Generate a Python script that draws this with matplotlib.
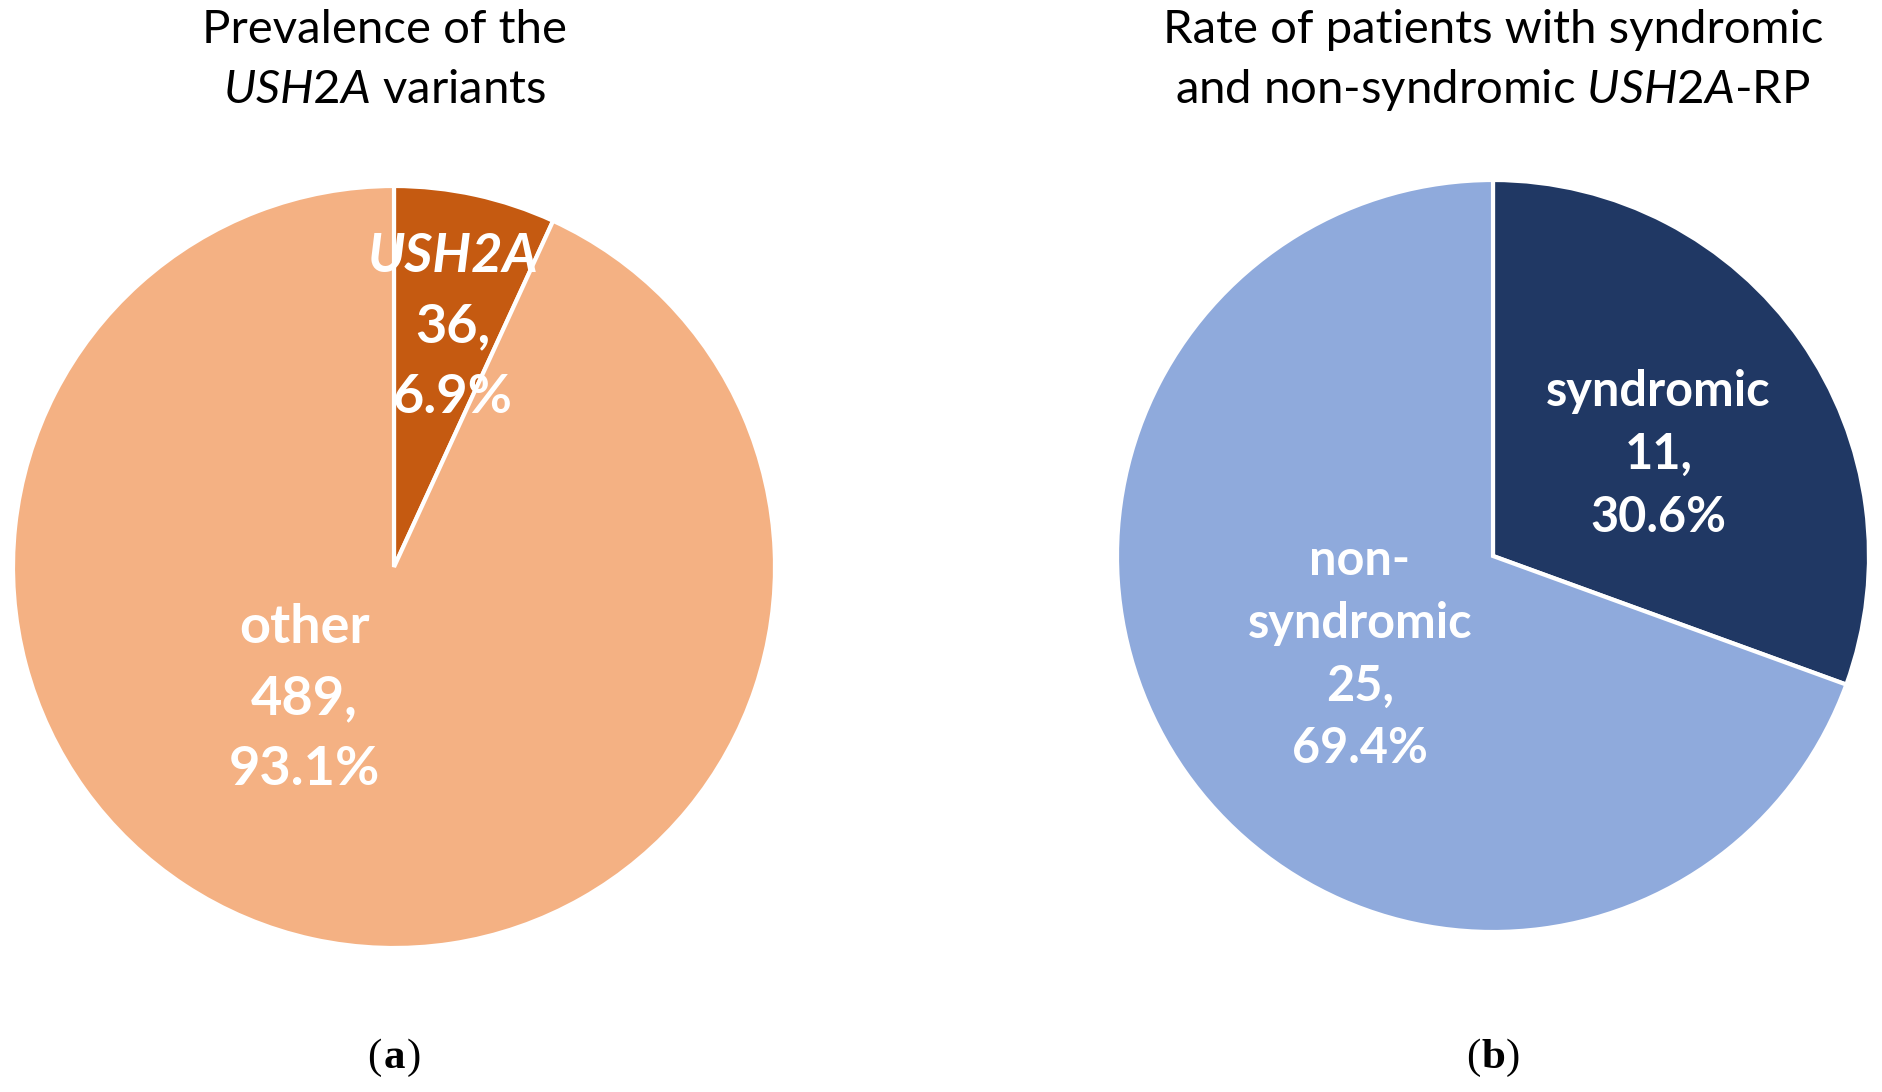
import matplotlib
matplotlib.use('Agg')
import matplotlib.pyplot as plt

plt.rcParams['font.family'] = ['Lato', 'DejaVu Sans']
plt.rcParams['mathtext.fontset'] = 'custom'
plt.rcParams['mathtext.rm'] = 'Lato'
plt.rcParams['mathtext.it'] = 'Lato:italic'
plt.rcParams['mathtext.bf'] = 'Lato:bold'

# data
variant_names = ['USH2A', 'other']
variant_counts = [36, 489]
variant_colors = ['#C55A11', '#F4B183']

patient_names = ['syndromic', 'non-\nsyndromic']
patient_counts = [11, 25]
patient_colors = ['#203864', '#8FAADC']

W, H = 1882, 1092
fig = plt.figure(figsize=(W / 100, H / 100), dpi=100)


def pie_axes(cx, cy, r):
    """axes in pixel coords (from top-left) so that the pie fills it"""
    ax = fig.add_axes([(cx - r) / W, (H - cy - r) / H, 2 * r / W, 2 * r / H])
    ax.set_xlim(-1, 1)
    ax.set_ylim(-1, 1)
    ax.set_aspect('equal')
    ax.axis('off')
    return ax


def draw_pie(ax, counts, colors):
    ax.pie(counts, colors=colors, startangle=90, counterclock=False, radius=1,
           wedgeprops=dict(edgecolor='white', linewidth=3))
    ax.set_xlim(-1, 1)
    ax.set_ylim(-1, 1)


def wedge_label(ax, x, y, name, count, total, size, italic=False, gap=1.22):
    pct = 100.0 * count / total
    lines = name.split('\n') + ['{},'.format(count), '{:.1f}%'.format(pct)]
    n = len(lines)
    step = size * gap
    for i, line in enumerate(lines):
        off = ((n - 1) / 2 - i) * step
        st = 'italic' if (italic and i == 0) else 'normal'
        ax.annotate(line, (x, y), xytext=(0, off), textcoords='offset points',
                    ha='center', va='center', color='white', fontsize=size,
                    fontweight='bold', style=st)


# (a) prevalence of USH2A variants
ax1 = pie_axes(394, 567, 381)
draw_pie(ax1, variant_counts, variant_colors)
tot1 = sum(variant_counts)
wedge_label(ax1, 0.155, 0.63, variant_names[0], variant_counts[0], tot1, 39, italic=True, gap=1.31)
wedge_label(ax1, -0.236, -0.345, variant_names[1], variant_counts[1], tot1, 39, gap=1.31)

# (b) syndromic vs non-syndromic
ax2 = pie_axes(1493, 556, 376)
draw_pie(ax2, patient_counts, patient_colors)
tot2 = sum(patient_counts)
wedge_label(ax2, 0.44, 0.27, patient_names[0], patient_counts[0], tot2, 35, gap=1.29)
wedge_label(ax2, -0.354, -0.263, patient_names[1], patient_counts[1], tot2, 35, gap=1.29)

# titles
fig.text(385 / W, 1 - 30 / H, 'Prevalence of the', ha='center', va='center', fontsize=34)
fig.text(385 / W, 1 - 90 / H, r'$\mathit{USH2A}$ variants', ha='center', va='center', fontsize=34)
fig.text(1493 / W, 1 - 30 / H, 'Rate of patients with syndromic', ha='center', va='center', fontsize=34)
fig.text(1493 / W, 1 - 90 / H, r'and non-syndromic $\mathit{USH2A}$-RP', ha='center', va='center', fontsize=34)

# panel letters: (a) and (b), letter bold
for x, letter in [(394, 'a'), (1493, 'b')]:
    xy = (x / W, 1 - 1068 / H)
    fig.text(*xy, letter, ha='center', va='baseline', fontsize=31,
             family='Liberation Serif', fontweight='bold')
    plt.annotate('(', xy, xycoords='figure fraction', xytext=(-9, 0),
                 textcoords='offset points', ha='right', va='baseline',
                 fontsize=31, family='Liberation Serif')
    plt.annotate(')', xy, xycoords='figure fraction', xytext=(9, 0),
                 textcoords='offset points', ha='left', va='baseline',
                 fontsize=31, family='Liberation Serif')

fig.savefig('out.png', dpi=100)
